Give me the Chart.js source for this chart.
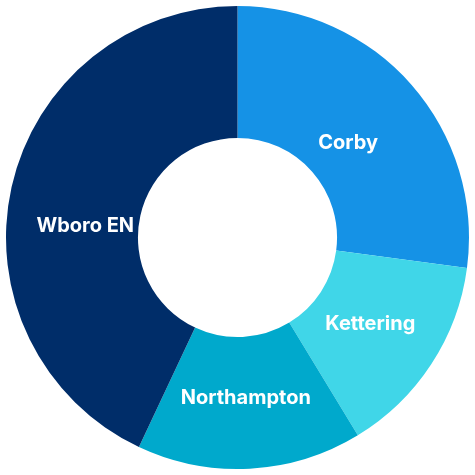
<!DOCTYPE html>
<html>
<head>
<meta charset="utf-8">
<script src="https://cdn.jsdelivr.net/npm/chart.js@4/dist/chart.umd.min.js"></script>
<style>
  html, body { margin: 0; padding: 0; background: #ffffff; }
  #wrap { width: 475px; height: 475px; }
</style>
</head>
<body>
<div id="wrap"><canvas id="areaChart"></canvas></div>
<script>
// Areas and their share (percent)
const areas = ['Corby', 'Kettering', 'Northampton', 'Wboro EN'];
const shares = [27.1, 14.2, 15.7, 43.0];
const areaColours = ['#1592e6', '#40d6e8', '#00a9cc', '#002d69'];

// small hand nudges so the names sit where the original puts them (px)
const labelNudge = [[-6, 8], [3, 2], [0, 6], [-1, 22]];

// Draws the white area names inside each slice
const sliceLabels = {
    id: 'sliceLabels',
    afterDatasetsDraw(chart) {
        const { ctx } = chart;
        const meta = chart.getDatasetMeta(0);
        ctx.save();
        ctx.fillStyle = '#ffffff';
        ctx.font = '700 20px Inter, "Noto Sans", sans-serif';
        ctx.textAlign = 'center';
        ctx.textBaseline = 'middle';
        meta.data.forEach((arc, i) => {
            const p = arc.getProps(['x', 'y', 'startAngle', 'endAngle', 'innerRadius', 'outerRadius'], true);
            const mid = (p.startAngle + p.endAngle) / 2;
            const r = p.innerRadius + (p.outerRadius - p.innerRadius) * 0.42;
            const [dx, dy] = labelNudge[i];
            ctx.fillText(areas[i], p.x + Math.cos(mid) * r + dx, p.y + Math.sin(mid) * r + dy);
        });
        ctx.restore();
    }
};

new Chart(document.getElementById('areaChart'), {
    type: 'doughnut',
    data: {
        labels: areas,
        datasets: [{
            data: shares,
            backgroundColor: areaColours,
            borderWidth: 0
        }]
    },
    options: {
        responsive: true,
        maintainAspectRatio: false,
        animation: false,
        cutout: '43%',
        layout: { padding: 6 },
        plugins: {
            legend: { display: false },
            tooltip: { enabled: false }
        }
    },
    plugins: [sliceLabels]
});
</script>
</body>
</html>
